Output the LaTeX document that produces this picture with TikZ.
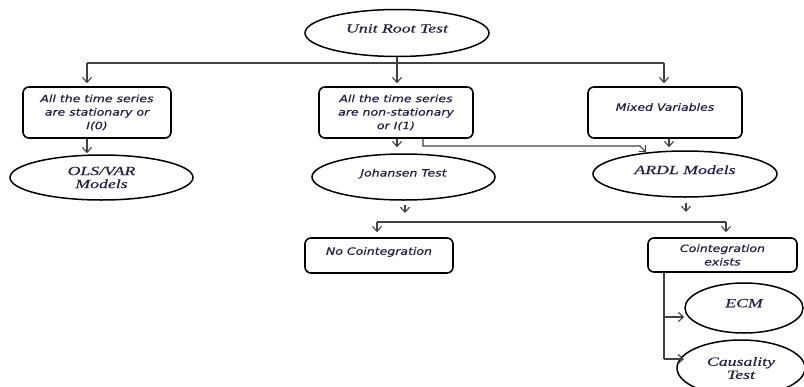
\documentclass[tikz,border=0pt]{standalone}
\usepackage{fontspec}
\setmainfont{Liberation Serif}
\newfontfamily\sfi[FakeStretch=1.25,FakeBold=0.4]{DejaVu Sans}
\newfontfamily\rmi[FakeStretch=1.42,FakeBold=0.3]{Liberation Serif}
\usetikzlibrary{shapes.geometric,arrows.meta}
\definecolor{txt}{RGB}{30,30,70}
\definecolor{ln}{RGB}{65,65,65}
\begin{document}
\begin{tikzpicture}[x=1pt,y=-1pt,
  box/.style={draw=black,line width=1.6pt,rounded corners=6pt,inner sep=2pt,align=center,
    font=\sfi\itshape\fontsize{10}{13.5}\selectfont,text=txt},
  ell/.style={draw=black,line width=1.5pt,ellipse,inner sep=0pt,align=center,
    font=\rmi\itshape\fontsize{12.5}{13}\selectfont,text=txt},
  sell/.style={ell,font=\sfi\itshape\fontsize{10}{13.5}\selectfont},
  con/.style={draw=ln,line width=1.1pt},
  arr/.style={con,-{Straight Barb[length=5pt,width=9pt]}}]
\useasboundingbox (0,0) rectangle (804,386);

% nodes
\node[ell,minimum width=184pt,minimum height=47pt,text height=9pt,text depth=10pt] (urt) at (397,33) {Unit Root Test};
\node[box,minimum width=148pt,minimum height=51pt] (b1) at (97,112.5) {All the time series\\are stationary or\\I(0)};
\node[box,minimum width=154pt,minimum height=51pt] (b2) at (396,112.5) {All the time series\\are non-stationary\\or I(1)};
\node[box,minimum width=154pt,minimum height=51pt,text height=7.5pt,text depth=11pt] (b3) at (665,112.5) {Mixed Variables};
\node[ell,minimum width=183pt,minimum height=45pt] (ols) at (101.5,177.5) {OLS/VAR\\Models};
\node[sell,minimum width=183pt,minimum height=46pt,text height=7.5pt,text depth=8.5pt] (joh) at (403.5,177) {Johansen Test};
\node[ell,minimum width=184pt,minimum height=46pt,text height=9pt,text depth=9pt] (ardl) at (685,174) {ARDL Models};
\node[box,minimum width=148pt,minimum height=35pt,text height=7.5pt,text depth=9pt] (noc) at (379,255.5) {No Cointegration};
\node[box,minimum width=149pt,minimum height=34pt] (coe) at (722.5,255) {Cointegration\\exists};
\node[ell,minimum width=118pt,minimum height=50pt,text height=9pt,text depth=10.5pt] (ecm) at (744,308) {ECM};
\node[ell,minimum width=128pt,minimum height=56pt] (caus) at (741,368) {Causality\\Test};

% connectors
\coordinate (hl) at (87,63);
\coordinate (hr) at (664,63);
\draw[con] (hl) -- (hr);
\draw[arr,shorten >=3pt] (urt.south) -- (urt.south |- b2.north);
\draw[arr,shorten >=3pt] (hl) -- (hl |- b1.north);
\draw[arr,shorten >=3pt] (hr) -- (hr |- b3.north);
\draw[arr,shorten >=1pt] (b1.south -| hl) -- (ols.north -| hl);
\draw[arr,shorten >=6pt] (b2.south -| urt.south) -- (joh.north -| urt.south);
\coordinate (abend) at (640,146);
\draw[arr] ([xshift=27pt]b2.south) |- (abend) -- (ardl.151);
\draw[arr,shorten >=3pt] ([xshift=4pt]b3.south) -- ([xshift=4pt]b3.south |- ardl.north);

\coordinate (ja) at (405,205);
\coordinate (jb) at (405,213);
\draw[arr] (ja) -- (jb);
\coordinate (aa) at (686,203);
\coordinate (ab) at (686,212);
\draw[arr] (aa) -- (ab);

\coordinate (cl) at (377,222);
\coordinate (cr) at (726,222);
\draw[con] (cl) -- (cr);
\draw[arr,shorten >=5pt] (cl) -- (cl |- noc.north);
\draw[arr,shorten >=5pt] (cr) -- (cr |- coe.north);

\coordinate (cv) at (664,359);
\coordinate (ce) at (664,317);
\coordinate (ct) at (684,359);
\draw[con] (coe.south -| cv) -- (cv);
\draw[arr] (ce) -- (ce -| ecm.west);
\draw[arr] (cv) -- (ct);
\end{tikzpicture}
\end{document}
